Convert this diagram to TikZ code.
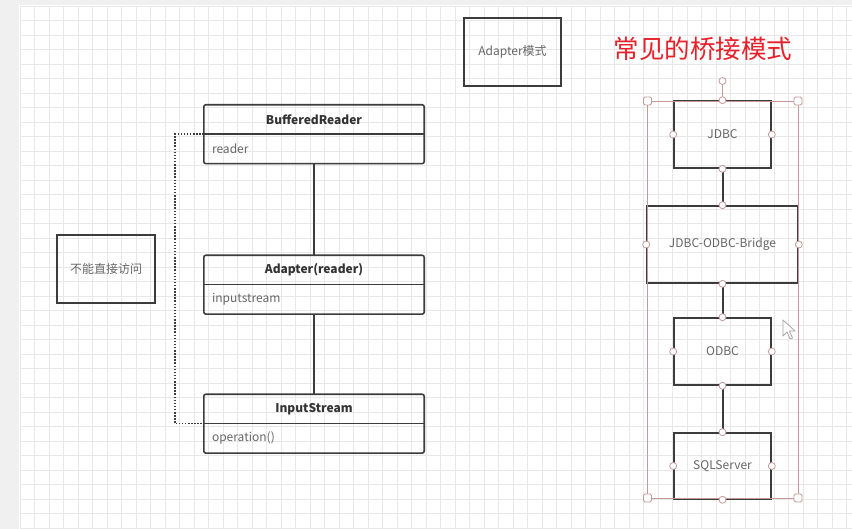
\documentclass[tikz,border=0pt]{standalone}
\usepackage{fontspec}
\setmainfont{Noto Sans CJK SC}
\usetikzlibrary{positioning}
\definecolor{boxline}{HTML}{3C3C3C}
\definecolor{headtext}{HTML}{333333}
\definecolor{bodytext}{HTML}{666666}
\definecolor{selcolor}{HTML}{C49A9A}
\definecolor{gridcolor}{HTML}{E8E8E8}
\definecolor{titlered}{HTML}{E8202A}
\tikzset{
  uml/.style={draw=boxline, line width=1.6pt, rounded corners=2pt},
  sepline/.style={draw=boxline, line width=1.6pt},
  classhead/.style={minimum width=220pt, minimum height=29pt, inner sep=0pt,
    font=\bfseries\fontsize{12}{14}\selectfont, text=headtext},
  classbody/.style={minimum height=29pt, text width=204pt, inner xsep=8pt, inner ysep=0pt,
    align=left, font=\fontsize{12}{14}\selectfont, text=bodytext},
  plainbox/.style={draw=boxline, line width=1.6pt, inner sep=0pt,
    font=\fontsize{12}{14}\selectfont, text=bodytext},
  link/.style={draw=boxline, line width=2pt},
  dotline/.style={draw=boxline, line width=1.6pt, dash pattern=on 1.5pt off 1.6pt},
  handle/.style={circle, draw=selcolor, fill=white, line width=0.8pt, inner sep=0pt, minimum size=7pt},
  corner/.style={rectangle, rounded corners=1.5pt, draw=selcolor, fill=white, line width=0.8pt,
    inner sep=0pt, minimum size=8pt},
}
\begin{document}
\begin{tikzpicture}[x=1pt, y=-1pt]
	\useasboundingbox (0,0) rectangle (852,529);
	% canvas
	\fill[white] (0,0) rectangle (852,529);
	\fill[gray!12] (0,0) rectangle (19,529);
	\fill[gray!12] (0,0) rectangle (852,5);
	\foreach \gx in {20,34.5,...,852} \draw[gridcolor, line width=0.8pt] (\gx,6) -- (\gx,529);
	\foreach \gy in {6,20.5,...,529} \draw[gridcolor, line width=0.8pt] (20,\gy) -- (852,\gy);

	% adapter classes
	\node[classhead] (bufh) at (314,119.5) {BufferedReader};
	\node[classbody, below=0pt of bufh] (bufb) {reader};
	\node[classhead] (adph) at (314,270) {Adapter(reader)};
	\node[classbody, below=0pt of adph] (adpb) {inputstream};
	\node[classhead] (insh) at (314,409) {InputStream};
	\node[classbody, below=0pt of insh] (insb) {operation()};
	\foreach \c in {buf,adp,ins} {
		\draw[uml] (\c h.north west) rectangle (\c b.south east);
		\draw[sepline] (\c h.south west) -- (\c h.south east);
	}
	\draw[link] (bufb.south) -- (adph.north);
	\draw[link] (adpb.south) -- (insh.north);
	\draw[dotline] (bufh.south west) -- ++(-29,0) |- (insh.south west);

	\node[plainbox, minimum width=98pt, minimum height=68pt] (noaccess) at (106,269) {不能直接访问};
	\node[plainbox, minimum width=97pt, minimum height=68pt] (adaptermode) at (512.5,52) {Adapter模式};
	\node[text=titlered, font=\fontsize{25.5}{30}\selectfont] (title) at (703,49) {常见的桥接模式};

	% bridge example
	\node[plainbox, minimum width=97pt, minimum height=67pt] (jdbc) at (722.5,134.5) {JDBC};
	\node[plainbox, minimum width=151pt, minimum height=77pt] (bridge) at (722.5,244.5) {JDBC-ODBC-Bridge};
	\node[plainbox, minimum width=97pt, minimum height=67pt] (odbc) at (722.5,351.5) {ODBC};
	\node[plainbox, minimum width=97pt, minimum height=66pt] (sqls) at (722.5,466) {SQLServer};
	\draw[link] (jdbc) -- (bridge);
	\draw[link] (bridge) -- (odbc);
	\draw[link] (odbc) -- (sqls);

	% selection frame
	\coordinate (selnw) at (647.5,101);
	\coordinate (selse) at (798,498);
	\draw[selcolor, line width=0.8pt] (selnw) rectangle (selse);
	\node[handle] (rot) at (722.5,81) {};
	\draw[selcolor, line width=0.8pt] (rot) -- (jdbc.north);
	\foreach \n in {jdbc,bridge,odbc,sqls}
		\foreach \a in {north,south,east,west}
			\node[handle] at (\n.\a) {};
	\node[corner] at (selnw) {};
	\node[corner] at (selse) {};
	\node[corner] at (selnw |- selse) {};
	\node[corner] at (selse |- selnw) {};

	% mouse pointer
	\draw[gray!70, fill=white, line width=0.8pt, line join=round]
		(783,320) -- (783,336) -- (787,332) -- (790,339) -- (792.5,338) -- (789.5,331) -- (795,331) -- cycle;
\end{tikzpicture}
\end{document}
